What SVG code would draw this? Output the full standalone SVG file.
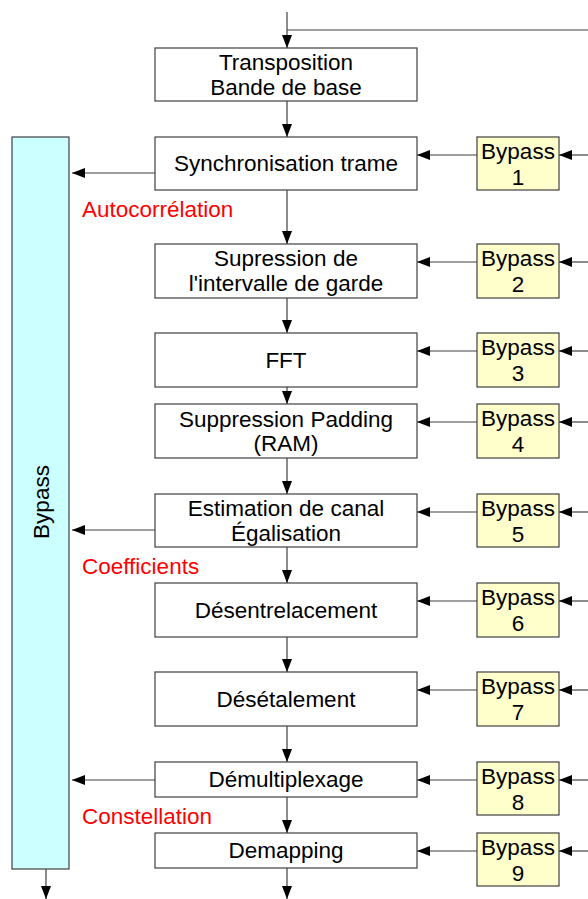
<svg xmlns="http://www.w3.org/2000/svg" width="588" height="899" viewBox="0 0 588 899">
<style>
.box{fill:#ffffff;stroke:#404040;stroke-width:1.2}
.byp{fill:#ffffcc;stroke:#404040;stroke-width:1.2}
.big{fill:#ccffff;stroke:#404040;stroke-width:1.2}
.t{font-family:"Liberation Sans",Arial,sans-serif;font-size:22.5px;fill:#000;text-anchor:middle}
.r{font-family:"Liberation Sans",Arial,sans-serif;font-size:22.5px;fill:#ff0000}
.c{fill:none;stroke:#404040;stroke-width:1.2;marker-end:url(#ah)}
.l{fill:none;stroke:#404040;stroke-width:1.2}
</style>
<defs>
<marker id="ah" markerUnits="userSpaceOnUse" markerWidth="14" markerHeight="10" refX="13" refY="5" orient="auto">
<path d="M0,0 L13,5 L0,10 z" fill="#000"/>
</marker>
</defs>
<g id="connectors">
<path class="l" d="M588,30 H287"/>
<path class="c" d="M287,12 V48"/>
<path class="c" d="M287,101 V137"/>
<path class="c" d="M287,190 V244"/>
<path class="c" d="M287,298 V333"/>
<path class="c" d="M287,387 V404"/>
<path class="c" d="M287,458 V494"/>
<path class="c" d="M287,547 V583"/>
<path class="c" d="M287,637 V672"/>
<path class="c" d="M287,726 V762"/>
<path class="c" d="M287,797 V833"/>
<path class="c" d="M287,868 V899"/>
<path class="c" d="M46,869 V899"/>
<path class="c" d="M155,173 H72"/>
<path class="c" d="M155,530 H72"/>
<path class="c" d="M155,780 H72"/>
<path class="c" d="M477,155 H417"/>
<path class="c" d="M477,262 H417"/>
<path class="c" d="M477,351 H417"/>
<path class="c" d="M477,422 H417"/>
<path class="c" d="M477,512 H417"/>
<path class="c" d="M477,601 H417"/>
<path class="c" d="M477,690 H417"/>
<path class="c" d="M477,780 H417"/>
<path class="c" d="M477,851 H417"/>
<path class="c" d="M588,155 H559"/>
<path class="c" d="M588,262 H559"/>
<path class="c" d="M588,351 H559"/>
<path class="c" d="M588,422 H559"/>
<path class="c" d="M588,512 H559"/>
<path class="c" d="M588,601 H559"/>
<path class="c" d="M588,690 H559"/>
<path class="c" d="M588,780 H559"/>
<path class="c" d="M588,851 H559"/>
</g>
<g id="bypass-main">
<rect class="big" x="12" y="137" width="57" height="732"/>
<text class="t" transform="translate(49,502) rotate(-90)">Bypass</text>
</g>
<g id="transposition">
<rect class="box" x="155" y="48" width="262" height="53"/>
<text class="t" x="286" y="70">Transposition</text>
<text class="t" x="286" y="95">Bande de base</text>
</g>
<g id="synchronisation">
<rect class="box" x="155" y="137" width="262" height="53"/>
<text class="t" x="286" y="171">Synchronisation trame</text>
</g>
<g id="suppression-garde">
<rect class="box" x="155" y="244" width="262" height="54"/>
<text class="t" x="286" y="266">Supression de</text>
<text class="t" x="286" y="291">l'intervalle de garde</text>
</g>
<g id="fft">
<rect class="box" x="155" y="333" width="262" height="54"/>
<text class="t" x="286" y="368">FFT</text>
</g>
<g id="padding">
<rect class="box" x="155" y="404" width="262" height="54"/>
<text class="t" x="286" y="427">Suppression Padding</text>
<text class="t" x="286" y="451">(RAM)</text>
</g>
<g id="estimation">
<rect class="box" x="155" y="494" width="262" height="53"/>
<text class="t" x="286" y="516">Estimation de canal</text>
<text class="t" x="286" y="541">Égalisation</text>
</g>
<g id="desentrelacement">
<rect class="box" x="155" y="583" width="262" height="54"/>
<text class="t" x="286" y="618">Désentrelacement</text>
</g>
<g id="desetalement">
<rect class="box" x="155" y="672" width="262" height="54"/>
<text class="t" x="286" y="707">Désétalement</text>
</g>
<g id="demultiplexage">
<rect class="box" x="155" y="762" width="262" height="35"/>
<text class="t" x="286" y="787">Démultiplexage</text>
</g>
<g id="demapping">
<rect class="box" x="155" y="833" width="262" height="35"/>
<text class="t" x="286" y="858">Demapping</text>
</g>
<g id="bypass1"><rect class="byp" x="477" y="137" width="82" height="53"/><text class="t" x="518" y="159">Bypass</text><text class="t" x="518" y="185">1</text></g>
<g id="bypass2"><rect class="byp" x="477" y="244" width="82" height="54"/><text class="t" x="518" y="266">Bypass</text><text class="t" x="518" y="292">2</text></g>
<g id="bypass3"><rect class="byp" x="477" y="333" width="82" height="54"/><text class="t" x="518" y="355">Bypass</text><text class="t" x="518" y="381">3</text></g>
<g id="bypass4"><rect class="byp" x="477" y="404" width="82" height="54"/><text class="t" x="518" y="426">Bypass</text><text class="t" x="518" y="452">4</text></g>
<g id="bypass5"><rect class="byp" x="477" y="494" width="82" height="53"/><text class="t" x="518" y="516">Bypass</text><text class="t" x="518" y="542">5</text></g>
<g id="bypass6"><rect class="byp" x="477" y="583" width="82" height="54"/><text class="t" x="518" y="605">Bypass</text><text class="t" x="518" y="631">6</text></g>
<g id="bypass7"><rect class="byp" x="477" y="672" width="82" height="54"/><text class="t" x="518" y="694">Bypass</text><text class="t" x="518" y="720">7</text></g>
<g id="bypass8"><rect class="byp" x="477" y="762" width="82" height="53"/><text class="t" x="518" y="784">Bypass</text><text class="t" x="518" y="810">8</text></g>
<g id="bypass9"><rect class="byp" x="477" y="833" width="82" height="53"/><text class="t" x="518" y="855">Bypass</text><text class="t" x="518" y="881">9</text></g>
<g id="labels">
<text class="r" x="82" y="217">Autocorrélation</text>
<text class="r" x="82" y="574">Coefficients</text>
<text class="r" x="82" y="824">Constellation</text>
</g>
</svg>
